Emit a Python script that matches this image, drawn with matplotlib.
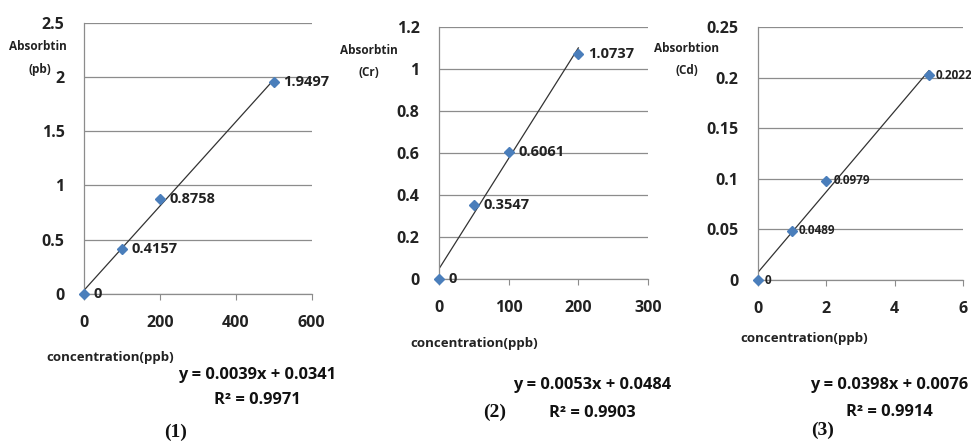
import numpy as np
from matplotlib import pyplot as plt

# calibration data
conc_pb = [0, 100, 200, 500]
abs_pb = [0, 0.4157, 0.8758, 1.9497]
conc_cr = [0, 50, 100, 200]
abs_cr = [0, 0.3547, 0.6061, 1.0737]
conc_cd = [0, 1, 2, 5]
abs_cd = [0, 0.0489, 0.0979, 0.2022]

eq_pb = ["y = 0.0039x + 0.0341", "R² = 0.9971"]
eq_cr = ["y = 0.0053x + 0.0484", "R² = 0.9903"]
eq_cd = ["y = 0.0398x + 0.0076", "R² = 0.9914"]

W, H = 971, 444
FONT = ['Open Sans', 'DejaVu Sans']
plt.rcParams['font.family'] = FONT
plt.rcParams['font.weight'] = 'bold'

fig = plt.figure(figsize=(W / 100, H / 100), dpi=100)


def px_axes(x0, x1, y0, y1):
    # pixel box -> axes
    return fig.add_axes([x0 / W, 1 - y1 / H, (x1 - x0) / W, (y1 - y0) / H])


def ftext(x, y, s, **kw):
    kw.setdefault('ha', 'center')
    kw.setdefault('va', 'center')
    fig.text(x / W, 1 - y / H, s, **kw)


def panel(ax, xs, ys, xlim, xticks, ylim, yticks, ylabels, lab_size, lab_off):
    slope, icpt = np.polyfit(xs, ys, 1)
    xx = np.array([0, max(xs)])
    ax.plot(xx, slope * xx + icpt, color='#333333', lw=0.9, zorder=2)
    ax.plot(xs, ys, 'D', color='#4a7ebb', ms=5, zorder=3, clip_on=False)
    for x, y in zip(xs, ys):
        lab = '0' if y == 0 else f'{y:.4f}'
        ax.annotate(lab, (x, y), xytext=(lab_off, 0), textcoords='offset points',
                    va='center', ha='left', fontsize=lab_size, fontweight='bold',
                    color='#222222', annotation_clip=False)
    ax.set_xlim(*xlim)
    ax.set_ylim(*ylim)
    ax.set_xticks(xticks)
    ax.set_yticks(yticks)
    ax.set_yticklabels(ylabels)
    ax.grid(axis='y', color='#8c8c8c', lw=0.9)
    ax.set_axisbelow(True)
    for s in ['top', 'right']:
        ax.spines[s].set_visible(False)
    for s in ['left', 'bottom']:
        ax.spines[s].set_color('#8c8c8c')
        ax.spines[s].set_linewidth(0.9)
    ax.tick_params(axis='y', length=0, pad=14, labelsize=11.5, labelcolor='#222222')
    ax.tick_params(axis='x', length=4, color='#8c8c8c', pad=11, labelsize=11.5,
                   labelcolor='#222222')
    ax.set_facecolor('none')


ax1 = px_axes(84, 311.7, 22.7, 294)
panel(ax1, conc_pb, abs_pb, (0, 600), [0, 200, 400, 600], (0, 2.5),
      [0, 0.5, 1, 1.5, 2, 2.5], ['0', '0.5', '1', '1.5', '2', '2.5'], 10.5, 7)

ax2 = px_axes(439, 648, 27, 279)
panel(ax2, conc_cr, abs_cr, (0, 300), [0, 100, 200, 300], (0, 1.2),
      [0, 0.2, 0.4, 0.6, 0.8, 1, 1.2], ['0', '0.2', '0.4', '0.6', '0.8', '1', '1.2'], 10.5, 7)

ax3 = px_axes(758, 963, 27, 280)
panel(ax3, conc_cd, abs_cd, (0, 6), [0, 2, 4, 6], (0, 0.25),
      [0, 0.05, 0.1, 0.15, 0.2, 0.25], ['0', '0.05', '0.1', '0.15', '0.2', '0.25'], 8.5, 5)

lab_kw = dict(fontsize=8.5, fontweight='bold', color='#222222')
ftext(38, 47, 'Absorbtin', **lab_kw)
ftext(40, 70, '(pb)', **lab_kw)
ftext(369, 50, 'Absorbtin', **lab_kw)
ftext(369, 72, '(Cr)', **lab_kw)
ftext(687, 48, 'Absorbtion', **lab_kw)
ftext(687, 70, '(Cd)', **lab_kw)

xl_kw = dict(fontsize=9.5, fontweight='bold', color='#222222')
ftext(110, 357, 'concentration(ppb)', **xl_kw)
ftext(474, 343, 'concentration(ppb)', **xl_kw)
ftext(804, 338, 'concentration(ppb)', **xl_kw)

eq_kw = dict(fontsize=11.8, fontweight='bold', color='#111111')
ftext(257, 375, eq_pb[0], **eq_kw)
ftext(257, 400, eq_pb[1], **eq_kw)
ftext(592, 385, eq_cr[0], **eq_kw)
ftext(592, 413, eq_cr[1], **eq_kw)
ftext(889, 385, eq_cd[0], **eq_kw)
ftext(889, 412, eq_cd[1], **eq_kw)

num_kw = dict(fontsize=14, fontweight='bold', family='Liberation Serif', color='#111111')
ftext(176, 432, '(1)', **num_kw)
ftext(495, 412, '(2)', **num_kw)
ftext(823, 430, '(3)', **num_kw)

fig.savefig('out.png', dpi=100)
